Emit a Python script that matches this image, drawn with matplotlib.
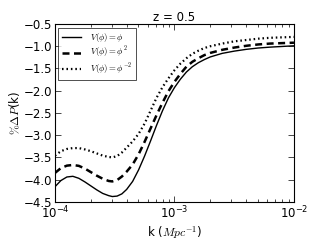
import matplotlib
matplotlib.use('Agg')
import matplotlib.pyplot as plt
import numpy as np

# values: log10 k and %dP for each potential
logk = [-4.00, -3.95, -3.90, -3.85, -3.80, -3.75, -3.70, -3.65, -3.60, -3.55,
        -3.52, -3.48, -3.44, -3.40, -3.35, -3.30, -3.25, -3.20, -3.15, -3.10,
        -3.05, -3.00, -2.95, -2.90, -2.85, -2.80, -2.75, -2.70, -2.60, -2.50,
        -2.40, -2.30, -2.20, -2.10, -2.00]

dp_phi = [-4.16, -4.02, -3.94, -3.925, -3.97, -4.05, -4.14, -4.23, -4.31, -4.36,
          -4.38, -4.37, -4.32, -4.22, -4.04, -3.78, -3.47, -3.13, -2.78, -2.45,
          -2.16, -1.93, -1.74, -1.58, -1.46, -1.37, -1.30, -1.24, -1.16, -1.11,
          -1.07, -1.04, -1.02, -1.005, -0.99]

dp_phi2 = [-3.85, -3.74, -3.685, -3.67, -3.69, -3.75, -3.83, -3.91, -3.98, -4.03,
           -4.04, -4.01, -3.93, -3.82, -3.66, -3.43, -3.15, -2.85, -2.55, -2.27,
           -2.01, -1.80, -1.62, -1.46, -1.35, -1.27, -1.20, -1.15, -1.08, -1.03,
           -0.99, -0.96, -0.94, -0.93, -0.92]

dp_phim2 = [-3.46, -3.36, -3.31, -3.29, -3.29, -3.32, -3.36, -3.41, -3.46, -3.49,
            -3.50, -3.47, -3.39, -3.28, -3.14, -2.97, -2.74, -2.45, -2.16, -1.92,
            -1.72, -1.54, -1.39, -1.27, -1.17, -1.10, -1.04, -1.00, -0.94, -0.89,
            -0.86, -0.83, -0.81, -0.80, -0.79]

plt.rcParams['font.size'] = 7.5
plt.rcParams['mathtext.fontset'] = 'cm'

fig = plt.figure(figsize=(3.27, 2.45), dpi=100, facecolor='white')
ax = fig.add_axes([0.168, 0.176, 0.731, 0.726])

k = 10 ** np.array(logk)
ax.plot(k, dp_phi, 'k-', lw=1.0, label=r'$V(\phi) = \phi$')
ax.plot(k, dp_phi2, 'k--', lw=1.8, dashes=(2.8, 1.8), label=r'$V(\phi) = \phi^2$')
ax.plot(k, dp_phim2, 'k:', lw=1.6, dashes=(0.7, 1.3), label=r'$V(\phi) = \phi^{-2}$')

ax.set_xscale('log')
ax.set_xlim(1e-4, 1e-2)
ax.set_ylim(-4.5, -0.5)
ax.set_yticks(np.arange(-4.5, -0.4, 0.5))
ax.tick_params(which='both', direction='in', top=True, right=True, labelsize=8.5, pad=2)
ax.tick_params(which='major', length=4, width=0.5)
ax.tick_params(which='minor', length=2, width=0.5)
for s in ax.spines.values():
    s.set_linewidth(0.8)

ax.set_title('z = 0.5', fontsize=8.5, pad=2)
ax.set_xlabel(r'k ($Mpc^{-1}$)', fontsize=8.5, labelpad=2)
ax.set_ylabel(r'$\%\Delta P$(k)', fontsize=8.5, labelpad=1)

leg = ax.legend(loc='upper left', fontsize=6.3, frameon=True, fancybox=False,
                handlelength=2.2, handletextpad=1.0, borderpad=0.4, labelspacing=0.15,
                borderaxespad=0.4)
leg.get_frame().set_edgecolor('black')
leg.get_frame().set_linewidth(0.6)

fig.savefig('out.png', dpi=100, facecolor='white')
